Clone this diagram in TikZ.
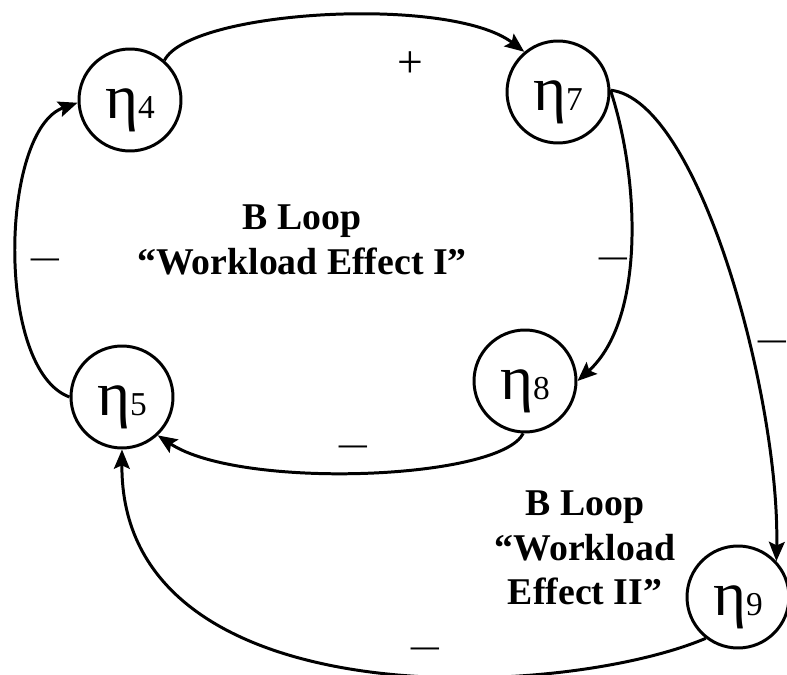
\documentclass[tikz,border=0pt]{standalone}
\usepackage{fontspec}
\setmainfont{Liberation Serif}
\usetikzlibrary{arrows.meta}
\newcommand\etalab[1]{\raisebox{-10.5pt}[0pt][0pt]{{\fontsize{36}{36}\selectfont η}{\fontsize{19}{19}\selectfont #1}}}
\tikzset{
  var/.style={circle,draw,line width=1.7pt,minimum size=2.04cm,inner sep=0pt},
  link/.style={line width=1.7pt,-{Stealth[length=11pt,width=9pt,inset=2pt]}},
  sign/.style={inner sep=0pt,font=\fontsize{16}{16}\bfseries\selectfont},
  plus/.style={inner sep=0pt,font=\fontsize{26}{26}\selectfont},
  looptext/.style={align=center,font=\fontsize{21.5}{25.5}\bfseries\selectfont}
}
\begin{document}
\begin{tikzpicture}[x=0.02cm,y=-0.02cm]
\useasboundingbox[fill=white] (0,0) rectangle (787,675);
\node[var] (n4) at (130,100) {\etalab{4}};
\node[var] (n7) at (558,92) {\etalab{7}};
\node[var] (n5) at (122,397) {\etalab{5}};
\node[var] (n8) at (525,381) {\etalab{8}};
\node[var] (n9) at (738,597) {\etalab{9}};

\draw[link] (n4.49) .. controls (190,10) and (450,-5) .. (n7.130);
\draw[link] (n7.2) .. controls (640,180) and (645,320) .. (n8.0);
\draw[link] (n7.2) .. controls (700,100) and (780,400) .. (n9.43);
\draw[link] (n8.268) .. controls (500,480) and (240,490) .. (n5.313);
\draw[link] (n9.232) .. controls (560,700) and (120,720) .. (n5.270);
\draw[link] (n5.180) .. controls (-5,370) and (0,130) .. (n4.183);

\node[plus] (s1) at (410,65) {+};
\node[sign] (s2) at (613,262) {—};
\node[sign] (s3) at (772,345) {—};
\node[sign] (s4) at (353,450) {—};
\node[sign] (s5) at (425,652) {—};
\node[sign] (s6) at (45,263) {—};

\node[looptext] (t1) at (302,240) {B Loop\\“Workload Effect I”};
\node[looptext] (t2) at (585,548) {B Loop\\“Workload\\Effect II”};
\end{tikzpicture}
\end{document}
